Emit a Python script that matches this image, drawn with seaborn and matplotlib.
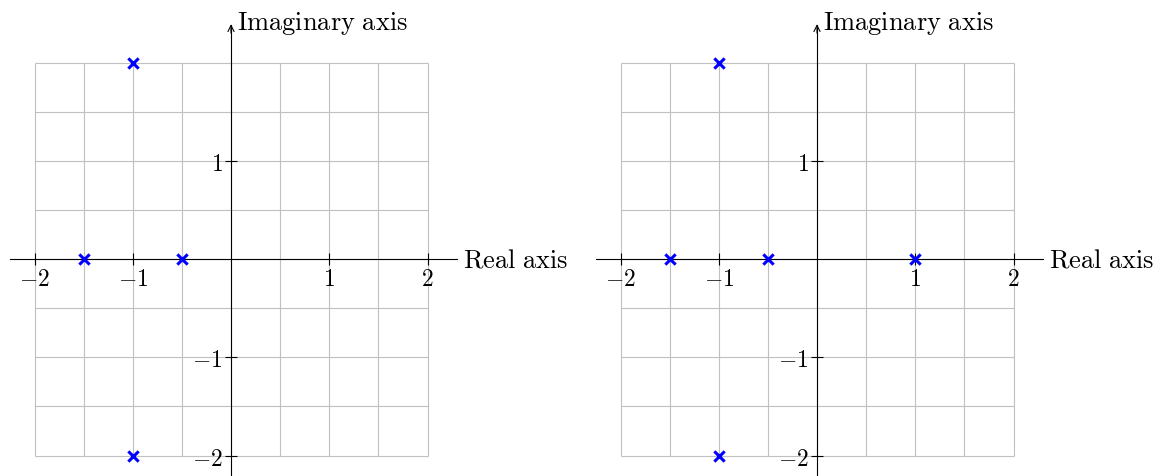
import numpy as np
import pandas as pd
import matplotlib
matplotlib.use("Agg")
import matplotlib.pyplot as plt
import seaborn as sns

# Pole locations for the two systems (real part, imaginary part)
poles_left_re = [-1.0, -1.5, -0.5, -1.0]
poles_left_im = [2.0, 0.0, 0.0, -2.0]
poles_right_re = [-1.0, -1.5, -0.5, 1.0, -1.0]
poles_right_im = [2.0, 0.0, 0.0, 0.0, -2.0]

x_ticks = [-2, -1, 1, 2]
y_ticks = [-2, -1, 1]
x_label = "Real axis"
y_label = "Imaginary axis"

sns.set_style("white")
plt.rcParams["mathtext.fontset"] = "cm"
plt.rcParams["font.family"] = ["DejaVu Serif"]
plt.rcParams["text.color"] = "black"

W, H, DPI = 1155, 477, 100
unit = 98.25  # pixels per data unit
fig = plt.figure(figsize=(W / DPI, H / DPI), dpi=DPI)

x_lo, x_hi = -2.25, 2.3
y_lo = -(477 - 260) / unit
y_hi = 260 / unit


def draw_panel(origin_px, re, im):
    left_px = origin_px + x_lo * unit
    ax = fig.add_axes([left_px / W, 0, (x_hi - x_lo) * unit / W, 1])

    df = pd.DataFrame({"re": re, "im": im})
    sns.scatterplot(data=df, x="re", y="im", ax=ax, marker="x", color="#0000ff",
                    s=55, linewidth=2.2, zorder=5, clip_on=False)
    ax.set_xlabel("")
    ax.set_ylabel("")

    ax.set_xlim(x_lo, x_hi)
    ax.set_ylim(y_lo, y_hi)
    ax.set_facecolor("none")
    ax.set_axisbelow(False)

    # light grid on [-2, 2] x [-2, 2]
    g = np.arange(-2, 2.01, 0.5)
    ax.vlines(g, -2, 2, color="#c0c0c0", lw=0.8, zorder=1)
    ax.hlines(g, -2, 2, color="#c0c0c0", lw=0.8, zorder=1)

    # axes through the origin
    for s in ["top", "right"]:
        ax.spines[s].set_visible(False)
    ax.spines["bottom"].set_position(("data", 0))
    ax.spines["left"].set_position(("data", 0))
    ax.spines["bottom"].set_bounds(x_lo, 2.3)
    ax.spines["left"].set_bounds(y_lo, 2.38)
    for s in ["bottom", "left"]:
        ax.spines[s].set_color("black")
        ax.spines[s].set_linewidth(0.8)
        ax.spines[s].set_zorder(2)
    ax.annotate("", xy=(2.31, 0), xytext=(2.2, 0),
                arrowprops=dict(arrowstyle="->", lw=0.8, color="black",
                                shrinkA=0, shrinkB=0, mutation_scale=11))
    ax.annotate("", xy=(0, 2.39), xytext=(0, 2.3),
                arrowprops=dict(arrowstyle="->", lw=0.8, color="black",
                                shrinkA=0, shrinkB=0, mutation_scale=11))

    ax.set_xticks(x_ticks)
    ax.set_yticks(y_ticks)
    ax.set_xticklabels([f"${v}$" for v in x_ticks])
    ax.set_yticklabels([f"${v}$" for v in y_ticks])
    ax.tick_params(axis="both", which="major", bottom=True, left=True,
                   direction="inout", length=8, width=0.8, labelsize=17,
                   color="black", labelcolor="black", pad=2)

    ax.text(2.36, 0, r"$\mathrm{%s}$" % x_label.replace(" ", r"\ "),
            fontsize=19, va="center", ha="left", color="black")
    ax.text(0.06, 2.41, r"$\mathrm{%s}$" % y_label.replace(" ", r"\ "),
            fontsize=19, va="center", ha="left", color="black")
    return ax


draw_panel(231, poles_left_re, poles_left_im)
draw_panel(817, poles_right_re, poles_right_im)

fig.savefig("out.png", dpi=DPI)
